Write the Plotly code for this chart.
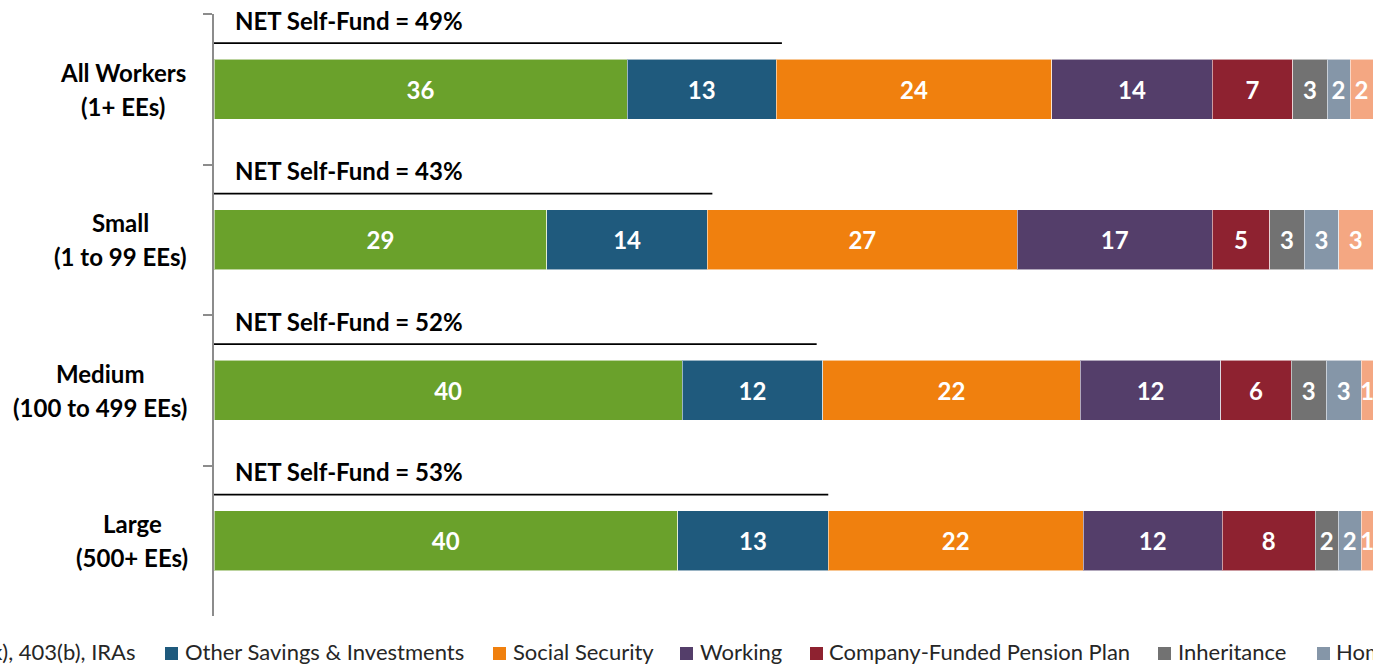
import plotly.graph_objects as go

# ---------------- data ----------------
cat_line1 = ["All Workers", "Small", "Medium", "Large"]
cat_line2 = ["(1+ EEs)", "(1 to 99 EEs)", "(100 to 499 EEs)", "(500+ EEs)"]

series_names = [
    "401(k), 403(b), IRAs",
    "Other Savings & Investments",
    "Social Security",
    "Working",
    "Company-Funded Pension Plan",
    "Inheritance",
    "Home Equity",
    "Other",
]
s_401k = [36, 29, 40, 40]
s_other_sav = [13, 14, 12, 13]
s_soc_sec = [24, 27, 22, 22]
s_working = [14, 17, 12, 12]
s_pension = [7, 5, 6, 8]
s_inherit = [3, 3, 3, 2]
s_home = [2, 3, 3, 2]
s_other = [2, 3, 1, 1]
series_values = [s_401k, s_other_sav, s_soc_sec, s_working,
                 s_pension, s_inherit, s_home, s_other]

net_self_fund = [49, 43, 52, 53]

colors = ["#6AA12B", "#1F5A7D", "#F0800E", "#543E6A",
          "#8E2230", "#727272", "#8596A8", "#F4A782"]

# ---------------- layout helpers ----------------
W, H = 1373, 664
ML, MR, MT, MB = 214, 0, 14, 48
PW, PH = W - ML - MR, H - MT - MB


def px2x(px):
    return (px - ML) / PW


def py2y(py):
    return (MT + PH - py) / PH


FONT = "Lato"

fig = go.Figure()
for name, vals, col in zip(series_names, series_values, colors):
    fig.add_trace(go.Bar(
        y=cat_line1, x=vals, name=name, orientation="h",
        marker=dict(color=col, line=dict(color="rgba(255,255,255,0.55)", width=1)),
        text=vals, texttemplate="%{text}", textposition="inside",
        insidetextanchor="middle", textangle=0, constraintext="none",
        textfont=dict(family=FONT, size=24, color="white", weight="bold"),
        showlegend=False, hoverinfo="skip",
    ))

annotations = []
shapes = []

# NET Self-Fund labels and lines
for i, net in enumerate(net_self_fund):
    annotations.append(dict(
        x=0, y=i - 0.46, xref="x", yref="y", xanchor="left", yanchor="middle",
        xshift=19, text=f"NET Self-Fund = {net}%", showarrow=False,
        font=dict(family=FONT, size=24, color="black", weight="bold"),
    ))
    shapes.append(dict(
        type="line", xref="x", yref="y", x0=0, x1=net, y0=i - 0.306, y1=i - 0.306,
        line=dict(color="black", width=1.8),
    ))

# category labels (two lines, centred on each other)
label_centres_px = [123, 120, 100, 132]
for i, (l1, l2) in enumerate(zip(cat_line1, cat_line2)):
    for txt, dy in ((l1, -0.113), (l2, 0.113)):
        annotations.append(dict(
            x=px2x(label_centres_px[i]), y=i + dy, xref="paper", yref="y",
            xanchor="center", yanchor="middle", text=txt, showarrow=False,
            font=dict(family=FONT, size=24, color="black", weight="bold"),
        ))

# legend (manual, cropped like the reference)
legend_text_px = [None, 184, 512, 699, 828, 1177, 1335, None]
legend_marker_px = [None, 165, 493, 680, 810, 1158, 1317, None]
ly = py2y(651)
for i, name in enumerate(series_names):
    if i == 0:
        annotations.append(dict(
            x=px2x(137), y=ly, xref="paper", yref="paper", xanchor="right",
            yanchor="middle", text=name, showarrow=False, borderpad=0,
            font=dict(family=FONT, size=22, color="#262626"),
        ))
        continue
    if legend_text_px[i] is None:
        continue
    shapes.append(dict(
        type="rect", xref="paper", yref="paper",
        x0=px2x(legend_marker_px[i]), x1=px2x(legend_marker_px[i] + 13),
        y0=py2y(660), y1=py2y(647), fillcolor=colors[i], line=dict(width=0),
    ))
    annotations.append(dict(
        x=px2x(legend_text_px[i]), y=ly, xref="paper", yref="paper",
        xanchor="left", yanchor="middle", text=name, showarrow=False, borderpad=0,
        font=dict(family=FONT, size=22, color="#262626"),
    ))

fig.update_layout(
    width=W, height=H,
    margin=dict(l=ML, r=MR, t=MT, b=MB, pad=0),
    barmode="stack", barnorm="percent", bargap=0.6,
    plot_bgcolor="white", paper_bgcolor="white",
    xaxis=dict(range=[0, 100], visible=False, fixedrange=True),
    yaxis=dict(
        categoryorder="array", categoryarray=cat_line1,
        range=[3.5, -0.5], showticklabels=False,
        showline=True, linecolor="#8C8C8C", linewidth=1.5,
        ticks="outside", tickson="boundaries", ticklen=9,
        tickcolor="#8C8C8C", tickwidth=1.5, showgrid=False, zeroline=False,
        fixedrange=True,
    ),
    annotations=annotations, shapes=shapes,
    font=dict(family=FONT),
)

fig.write_html(
    "out.html",
    config={"displayModeBar": False},
    post_script="document.body.style.margin='0';document.body.style.overflow='hidden';",
)
